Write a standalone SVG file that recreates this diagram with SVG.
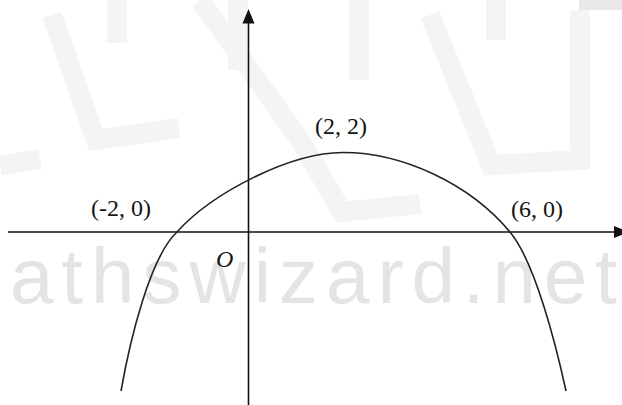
<svg xmlns="http://www.w3.org/2000/svg" width="622" height="405" viewBox="0 0 622 405">
  <style>
    .logo { fill: none; stroke: #f4f4f4; stroke-width: 20; stroke-linejoin: miter; }
    .wm { font-family: "Liberation Sans", Arial, sans-serif; font-size: 78px; fill: #e4e4e4; letter-spacing: 8px; }
    .axis { stroke: #111; stroke-width: 1.6; fill: none; }
    .head { fill: #111; }
    .curve { stroke: #222; stroke-width: 1.6; fill: none; }
    .lbl { font-family: "Liberation Serif", "Times New Roman", serif; font-size: 24px; fill: #151515; }
    .ital { font-style: italic; }
  </style>
  <rect width="622" height="405" fill="#ffffff"/>
  <g id="watermark-logo">
    <path class="logo" d="M52,15 L96,140 L179,128"/>
    <path class="logo" d="M0,166 L40,159"/>
    <path class="logo" d="M117,0 L117,43"/>
    <path class="logo" d="M200,0 L300,140 L342,212 L420,204"/>
    <path class="logo" d="M238,0 L238,70"/>
    <path class="logo" d="M359,0 L359,80"/>
    <path class="logo" d="M430,15 L491,165 L580,160 L580,10"/>
    <path class="logo" d="M496,0 L496,40"/>
    <rect x="579" y="0" width="43" height="10" fill="#e8e8e8"/>
  </g>
  <g id="watermark-text">
    <text class="wm" x="-63" y="303">mathswizard.net</text>
  </g>
  <g id="connectors">
    <line class="axis" x1="8" y1="232" x2="616" y2="232"/>
    <polygon class="head" points="614,226 629,232 614,238"/>
    <line class="axis" x1="248.5" y1="405" x2="248.5" y2="22"/>
    <polygon class="head" points="248.5,9 242.5,23.5 254.5,23.5"/>
  </g>
  <g id="curve">
    <path class="curve" d="M121,391 C130,340 150,257 177,232 C212,193 290,152.5 343,152.5 C403,152.5 470,184 510,232 C535,262 556,345 566,391"/>
  </g>
  <g id="label-vertex"><text class="lbl" x="315" y="134">(2, 2)</text></g>
  <g id="label-left-root"><text class="lbl" x="91" y="216">(-2, 0)</text></g>
  <g id="label-right-root"><text class="lbl" x="511" y="217">(6, 0)</text></g>
  <g id="label-origin"><text class="lbl ital" x="216" y="267">O</text></g>
</svg>
